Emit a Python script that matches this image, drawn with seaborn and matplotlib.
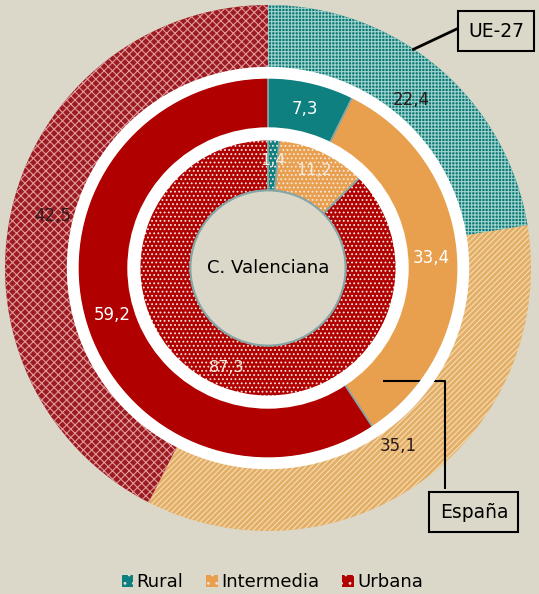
import numpy as np
import matplotlib.pyplot as plt
import seaborn as sns
from matplotlib.patches import Patch, Circle

# Distribución de la población por tipo de región (%)
categories = ["Rural", "Intermedia", "Urbana"]
ue27 = [22.4, 35.1, 42.5]
espana = [7.3, 33.4, 59.2]
valenciana = [1.4, 11.2, 87.3]

sns.set_theme(style="white")
plt.rcParams["font.family"] = ["DejaVu Sans"]
plt.rcParams["text.color"] = "black"
plt.rcParams["hatch.linewidth"] = 0.8

bg = "#DCD8C9"
colors = sns.color_palette(["#0E8080", "#E9A04E", "#B00000"])
# outer ring: darker base + light hatch lines
outer_base = ["#0C7676", "#E3AE68", "#9A1C22"]
outer_hatch = ["+++++", "//////", "xxxx"]
outer_lines = ["#9FD3CC", "#F5DDB0", "#E29A9A"]

fig = plt.figure(figsize=(5.39, 5.94), dpi=100, facecolor=bg)
ax = fig.add_axes([5 / 539, 63 / 594, 526 / 539, 526 / 594])
ax.set_facecolor(bg)


def fmt(v):
    return f"{v:.1f}".replace(".", ",")


def label_ring(values, r, color, size):
    total = sum(values)
    start = 90.0
    for v in values:
        span = 360.0 * v / total
        mid = np.deg2rad(start - span / 2)
        ax.text(r * np.cos(mid), r * np.sin(mid), fmt(v), color=color,
                fontsize=size, ha="center", va="center", zorder=6)
        start -= span


# outer ring: UE-27 (hatched)
wedges, _ = ax.pie(ue27, radius=1.0, startangle=90, counterclock=False,
                   colors=outer_base,
                   wedgeprops=dict(width=0.245, linewidth=0, zorder=1))
for w, h, lc in zip(wedges, outer_hatch, outer_lines):
    w.set_hatch(h)
    w.set_edgecolor(lc)
    w.set_linewidth(0)

# middle ring: España (solid)
ax.pie(espana, radius=0.725, startangle=90, counterclock=False, colors=colors,
       wedgeprops=dict(width=0.2, linewidth=1.2, edgecolor="#86A6A6", zorder=1))

# inner ring: C. Valenciana (dotted)
ax.pie(valenciana, radius=0.49, startangle=90, counterclock=False, colors=colors,
       hatch="....",
       wedgeprops=dict(width=0.195, linewidth=0, edgecolor="#F6E6E0", zorder=1))
ax.pie(valenciana, radius=0.49, startangle=90, counterclock=False,
       colors=["none"] * 3,
       wedgeprops=dict(width=0.195, linewidth=1.2, edgecolor="#86A6A6", zorder=2))

# callout lines (under the white separators)
ax.plot([0.548, 0.72], [0.829, 0.91], color="black", lw=2, zorder=2,
        solid_capstyle="butt")
ax.plot([0.437, 0.673, 0.673], [-0.43, -0.43, -0.84], color="black", lw=1.5,
        zorder=2, solid_capstyle="butt")

# white separators between rings
ax.pie([1], radius=0.765, colors=["white"],
       wedgeprops=dict(width=0.045, linewidth=0, zorder=3))
ax.pie([1], radius=0.535, colors=["white"],
       wedgeprops=dict(width=0.05, linewidth=0, zorder=3))
ax.add_patch(Circle((0, 0), 0.295, facecolor=bg, edgecolor="#86A6A6", lw=1.5,
                    zorder=4))

label_ring(ue27, 0.84, "#2B1B1B", 12)
label_ring(espana, 0.62, "white", 12)
label_ring(valenciana, 0.41, "#F4E9DA", 11.5)

ax.text(0, 0, "C. Valenciana", fontsize=13, ha="center", va="center",
        color="black", zorder=6)

box = dict(boxstyle="square,pad=0.55", facecolor=bg, edgecolor="black", lw=1.5)
ax.text(0.867, 0.9, "UE-27", fontsize=13.5, ha="center", va="center",
        bbox=box, zorder=7, clip_on=False)
ax.text(0.783, -0.928, "España", fontsize=13.5, ha="center", va="center",
        bbox=box, zorder=7, clip_on=False)

ax.set_xlim(-1, 1)
ax.set_ylim(-1, 1)
ax.set_aspect("equal")
ax.axis("off")

handles = [Patch(facecolor=c, edgecolor="#F0E0D8", hatch="..", linewidth=0,
                 label=lab)
           for c, lab in zip(colors, categories)]
fig.legend(handles=handles, loc="center", bbox_to_anchor=(0.505, 0.02),
           ncol=3, frameon=False, fontsize=13, handlelength=0.65,
           handleheight=0.65, handletextpad=0.15, columnspacing=1.3,
           labelcolor="black")

fig.savefig("out.png", dpi=100, facecolor=bg)
